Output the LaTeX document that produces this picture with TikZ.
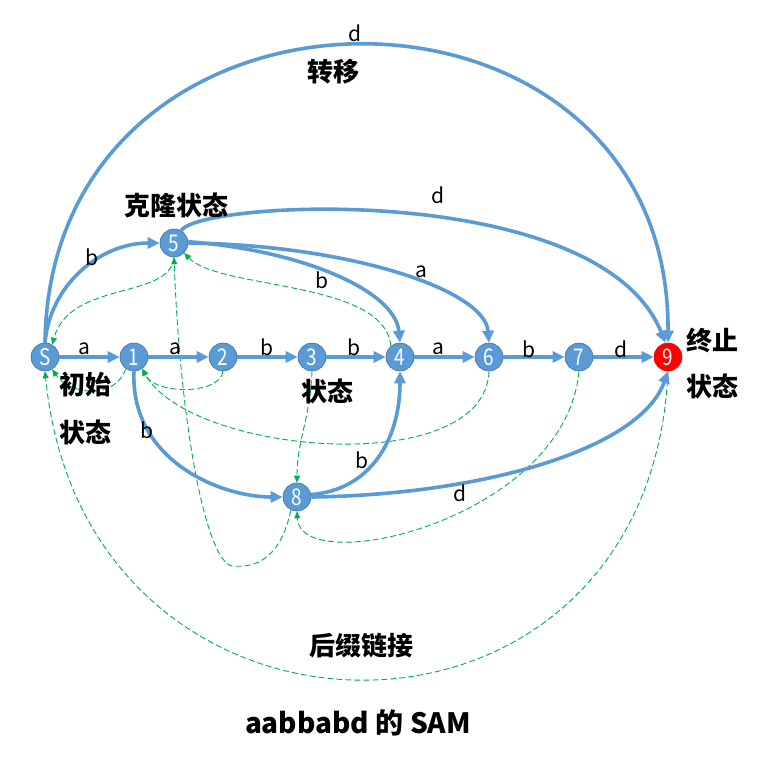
\documentclass[tikz,border=0pt]{standalone}
\usepackage{fontspec}
\setmainfont{Noto Sans CJK SC}
\newfontfamily\cjk{Noto Sans CJK SC}
\usetikzlibrary{arrows.meta}
\definecolor{eblue}{HTML}{5B9BD5}
\definecolor{nborder}{HTML}{41719C}
\definecolor{lgreen}{HTML}{00B050}
\definecolor{fred}{HTML}{FF0000}
\newcommand{\nd}[1]{\scalebox{0.82}[1]{#1}}
\tikzset{
  st/.style={circle, fill=eblue, draw=nborder, line width=0.6pt, minimum size=28pt, inner sep=0pt, text=white, font=\fontsize{23}{23}\selectfont},
  fin/.style={st, fill=fred, draw=fred},
  tr/.style={draw=eblue, line width=3.6pt, -{Triangle[length=12pt,width=11pt]}},
  lk/.style={draw=lgreen, line width=0.9pt, dash pattern=on 6pt off 3pt, -{Triangle[length=7pt,width=6pt]}},
  el/.style={font=\fontsize{21}{21}\selectfont, inner sep=0pt},
  cn/.style={font=\cjk\bfseries\fontsize{26}{26}\selectfont, inner sep=0pt},
}
\begin{document}
\begin{tikzpicture}[x=1pt,y=-1pt]
\useasboundingbox[fill=white] (0,0) rectangle (779,779);
% states
\node[st] (S) at (45,357) {\nd{S}};
\node[st] (n1) at (134,357) {\nd{1}};
\node[st] (n2) at (223,357) {\nd{2}};
\node[st] (n3) at (312,357) {\nd{3}};
\node[st] (n4) at (400,357) {\nd{4}};
\node[st] (n6) at (489,357) {\nd{6}};
\node[st] (n7) at (579,357) {\nd{7}};
\node[fin] (n9) at (668,357) {\nd{9}};
\node[st] (n5) at (174,243) {\nd{5}};
\node[st] (n8) at (297,497) {\nd{8}};
% suffix links
\draw[lk] (n5.-90) .. controls (170,300) and (70,280) .. (S.60);
\draw[lk] (n1.-125) .. controls (115,400) and (70,395) .. (S.-60);
\draw[lk] (n2.-90) .. controls (220,395) and (155,395) .. (n1.-55);
\draw[lk] (n3.-90) .. controls (310,420) and (297,440) .. (n8.90);
\draw[lk] (n4.130) .. controls (385,280) and (220,290) .. (n5.-45);
\draw[lk] (n6.-90) .. controls (485,480) and (190,455) .. (n1.-55);
\draw[lk] (n7.-90) .. controls (565,520) and (300,580) .. (n8.-90);
\draw[lk] (n8.-115) .. controls (280,560) and (255,568) .. (232,566) .. controls (205,560) and (180,420) .. (n5.-90);
\draw[lk] (n9.-90) .. controls (650,782) and (85,782) .. (S.-90);
% transitions
\draw[tr] (S) -- (n1);
\draw[tr] (n1) -- (n2);
\draw[tr] (n2) -- (n3);
\draw[tr] (n3) -- (n4);
\draw[tr] (n4) -- (n6);
\draw[tr] (n6) -- (n7);
\draw[tr] (n7) -- (n9);
\draw[tr] (S.90) .. controls (50,-54) and (670,-54) .. (n9.90);
\draw[tr] (S.90) .. controls (50,285) and (100,243) .. (n5.180);
\draw[tr] (n5.60) .. controls (200,200) and (600,180) .. (n9.100);
\draw[tr] (n5.5) .. controls (300,250) and (395,290) .. (n4.90);
\draw[tr] (n5.0) .. controls (350,245) and (485,290) .. (n6.90);
\draw[tr] (n1.-90) .. controls (130,460) and (220,497) .. (n8.180);
\draw[tr] (n8.10) .. controls (370,490) and (400,440) .. (n4.-90);
\draw[tr] (n8.0) .. controls (480,495) and (640,450) .. (n9.-90);
% edge labels
\node[el] (lSd) at (355,33) {d};
\node[el] (l5d) at (438,195) {d};
\node[el] (lS5) at (92,257) {b};
\node[el] (l54) at (322,280) {b};
\node[el] (l56) at (421,272) {a};
\node[el] (lS1) at (84,349) {a};
\node[el] (l12) at (175,349) {a};
\node[el] (l23) at (267,347) {b};
\node[el] (l34) at (354,347) {b};
\node[el] (l46) at (438,349) {a};
\node[el] (l67) at (529,349) {b};
\node[el] (l79) at (621,349) {d};
\node[el] (l18) at (147,430) {b};
\node[el] (l84) at (362,460) {b};
\node[el] (l89) at (460,493) {d};
% texts
\node[cn] (tzy) at (333,72) {转移};
\node[cn] (tkl) at (176,205) {克隆状态};
\node[cn] (tcs1) at (85,385) {初始};
\node[cn] (tcs2) at (85,432) {状态};
\node[cn] (tzt) at (327,391) {状态};
\node[cn] (tzz1) at (712,340) {终止};
\node[cn] (tzz2) at (712,386) {状态};
\node[cn] (thz) at (361,646) {后缀链接};
\node[cn, font=\cjk\bfseries\fontsize{28}{28}\selectfont] (title) at (358,723) {aabbabd 的 SAM};
\end{tikzpicture}
\end{document}
